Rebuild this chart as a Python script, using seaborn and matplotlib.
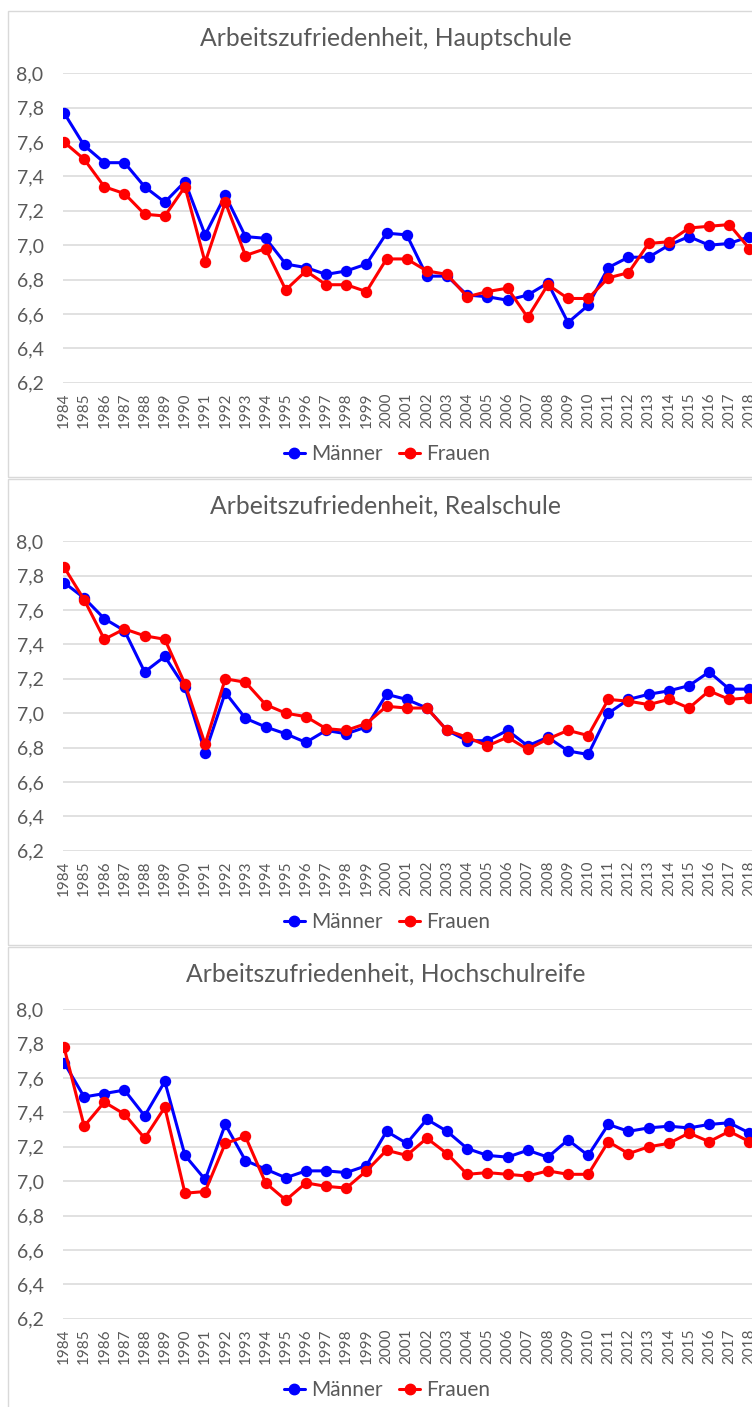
import matplotlib
matplotlib.use("Agg")
import matplotlib.pyplot as plt
import matplotlib.ticker as mticker
from matplotlib.patches import Rectangle
from matplotlib.lines import Line2D
import pandas as pd
import seaborn as sns

# Arbeitszufriedenheit nach Schulabschluss und Geschlecht
years = list(range(1984, 2019))

haupt_m = [7.77, 7.58, 7.48, 7.48, 7.34, 7.25, 7.37, 7.06, 7.29, 7.05, 7.04, 6.89, 6.87, 6.83, 6.85, 6.89, 7.07, 7.06,
           6.82, 6.82, 6.71, 6.70, 6.68, 6.71, 6.78, 6.55, 6.65, 6.87, 6.93, 6.93, 7.00, 7.05, 7.00, 7.01, 7.05]
haupt_f = [7.60, 7.50, 7.34, 7.30, 7.18, 7.17, 7.34, 6.90, 7.25, 6.94, 6.98, 6.74, 6.85, 6.77, 6.77, 6.73, 6.92, 6.92,
           6.85, 6.83, 6.70, 6.73, 6.75, 6.58, 6.77, 6.69, 6.69, 6.81, 6.84, 7.01, 7.02, 7.10, 7.11, 7.12, 6.98]

real_m = [7.76, 7.67, 7.55, 7.48, 7.24, 7.33, 7.15, 6.77, 7.12, 6.97, 6.92, 6.88, 6.83, 6.90, 6.88, 6.92, 7.11, 7.08,
          7.03, 6.90, 6.84, 6.84, 6.90, 6.81, 6.86, 6.78, 6.76, 7.00, 7.08, 7.11, 7.13, 7.16, 7.24, 7.14, 7.14]
real_f = [7.85, 7.66, 7.43, 7.49, 7.45, 7.43, 7.17, 6.82, 7.20, 7.18, 7.05, 7.00, 6.98, 6.91, 6.90, 6.94, 7.04, 7.03,
          7.03, 6.90, 6.86, 6.81, 6.86, 6.79, 6.85, 6.90, 6.87, 7.08, 7.07, 7.05, 7.08, 7.03, 7.13, 7.08, 7.09]

hoch_m = [7.69, 7.49, 7.51, 7.53, 7.38, 7.58, 7.15, 7.01, 7.33, 7.12, 7.07, 7.02, 7.06, 7.06, 7.05, 7.09, 7.29, 7.22,
          7.36, 7.29, 7.19, 7.15, 7.14, 7.18, 7.14, 7.24, 7.15, 7.33, 7.29, 7.31, 7.32, 7.31, 7.33, 7.34, 7.28]
hoch_f = [7.78, 7.32, 7.46, 7.39, 7.25, 7.43, 6.93, 6.94, 7.22, 7.26, 6.99, 6.89, 6.99, 6.97, 6.96, 7.06, 7.18, 7.15,
          7.25, 7.16, 7.04, 7.05, 7.04, 7.03, 7.06, 7.04, 7.04, 7.23, 7.16, 7.20, 7.22, 7.28, 7.23, 7.29, 7.23]

titles = ["Arbeitszufriedenheit, Hauptschule",
          "Arbeitszufriedenheit, Realschule",
          "Arbeitszufriedenheit, Hochschulreife"]
panels = [(haupt_m, haupt_f), (real_m, real_f), (hoch_m, hoch_f)]
series = ["Männer", "Frauen"]
colors = {"Männer": "#0000FF", "Frauen": "#FF0000"}
yticks = [6.2, 6.4, 6.6, 6.8, 7.0, 7.2, 7.4, 7.6, 7.8, 8.0]

sns.set_style("white")
plt.rcParams['font.family'] = ['Lato', 'DejaVu Sans']
grey = "#595959"

W, H = 752, 1407
fig = plt.figure(figsize=(W / 100, H / 100), dpi=100)

px_per_year = 20.16
x_left = 1983.95
x_right = 2019.0
ax_left_px = 63
ax_w_px = (x_right - x_left) * px_per_year

for i, (title, (m, f)) in enumerate(zip(titles, panels)):
    off = 468 * i
    # Rahmen des Diagramms
    top_b = 11 + off
    bot_b = 477 + off
    fig.patches.append(Rectangle((8 / W, 1 - bot_b / H), 900 / W, (bot_b - top_b) / H,
                                 transform=fig.transFigure, fill=False,
                                 edgecolor="#d9d9d9", linewidth=1.0))

    ax_top = 73.3 + off
    ax_bot = 382.7 + off
    ax = fig.add_axes([ax_left_px / W, 1 - ax_bot / H, ax_w_px / W, (ax_bot - ax_top) / H])

    df = pd.DataFrame({
        "Jahr": years * 2,
        "Wert": m + f,
        "Geschlecht": ["Männer"] * len(years) + ["Frauen"] * len(years),
    })
    sns.lineplot(data=df, x="Jahr", y="Wert", hue="Geschlecht", hue_order=series,
                 palette=colors, marker="o", markersize=8.2, markeredgewidth=0,
                 linewidth=2.2, legend=False, ax=ax)

    ax.set_xlim(x_left, x_right)
    ax.set_ylim(6.2, 8.0)
    ax.set_yticks(yticks)
    ax.yaxis.set_major_formatter(mticker.FuncFormatter(lambda v, p: f"{v:.1f}".replace(".", ",")))
    ax.set_xticks(years)
    ax.set_xticklabels([str(y) for y in years], rotation=90)
    ax.tick_params(axis="y", length=0, pad=14, labelsize=14, labelcolor=grey)
    ax.tick_params(axis="x", length=0, pad=7, labelsize=11, labelcolor=grey)
    ax.grid(axis="y", color="#d9d9d9", linewidth=1.1)
    ax.grid(axis="x", visible=False)
    for s in ax.spines.values():
        s.set_visible(False)
    ax.set_xlabel("")
    ax.set_ylabel("")
    ax.patch.set_alpha(0)

    fig.text(386 / W, 1 - (38 + off) / H, title, ha="center", va="center",
             fontsize=17.8, color=grey)

    handles = [Line2D([], [], color=colors[s], marker="o", markersize=7.5, linewidth=2.2) for s in series]
    fig.legend(handles, series, loc="center", bbox_to_anchor=(387 / W, 1 - (454 + off) / H),
               bbox_transform=fig.transFigure, ncol=2, frameon=False, fontsize=15,
               handlelength=1.0, handletextpad=0.3, columnspacing=0.8, labelcolor=grey)

plt.savefig("out.png", dpi=100)
